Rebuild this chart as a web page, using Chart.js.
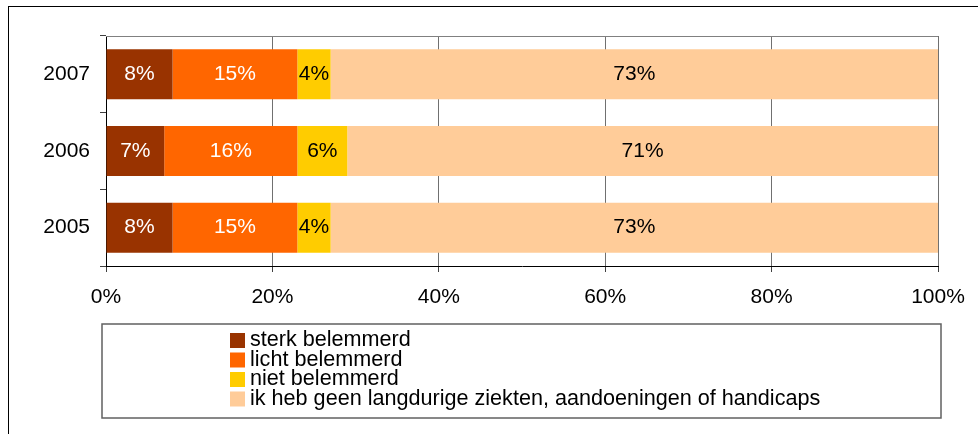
<!DOCTYPE html>
<html>
<head>
<meta charset="utf-8">
<script src="https://cdn.jsdelivr.net/npm/chart.js@4.4.0/dist/chart.umd.min.js"></script>
<style>
  html, body { margin: 0; padding: 0; background: #fff; }
  #wrap { position: relative; width: 978px; height: 434px; overflow: hidden; }
  #frame { position: absolute; left: 8px; top: 6px; width: 1000px; height: 1000px;
           border-left: 1px solid #000; border-top: 1px solid #000; box-sizing: border-box; }
  canvas { position: absolute; left: 0; top: 0; }
</style>
</head>
<body>
<div id="wrap">
  <div id="frame"></div>
  <canvas id="c" width="978" height="434"></canvas>
</div>
<script>
const categories = ['2007', '2006', '2005'];
const seriesNames = ['sterk belemmerd', 'licht belemmerd', 'niet belemmerd',
  'ik heb geen langdurige ziekten, aandoeningen of handicaps'];
const sterk = [8, 7, 8];
const licht = [15, 16, 15];
const niet = [4, 6, 4];
const geen = [73, 71, 73];
const colors = ['#993300', '#FF6600', '#FFCC00', '#FFCC99'];
const labelColors = ['#ffffff', '#ffffff', '#000000', '#000000'];
const xTicks = [0, 20, 40, 60, 80, 100];

const FONT = '"Liberation Sans", Arial, Helvetica, sans-serif';

const valueLabels = {
  id: 'valueLabels',
  afterDatasetsDraw(chart) {
    const ctx = chart.ctx;
    ctx.save();
    ctx.font = '21px ' + FONT;
    ctx.textAlign = 'center';
    ctx.textBaseline = 'middle';
    chart.data.datasets.forEach((ds, di) => {
      const meta = chart.getDatasetMeta(di);
      meta.data.forEach((el, i) => {
        const p = el.getCenterPoint();
        ctx.fillStyle = labelColors[di];
        ctx.fillText(ds.data[i] + '%', p.x, p.y);
      });
    });
    ctx.restore();
  }
};

const extras = {
  id: 'extras',
  beforeDatasetsDraw(chart) {
    const ctx = chart.ctx, a = chart.chartArea;
    ctx.save();
    ctx.strokeStyle = '#808080';
    ctx.lineWidth = 1;
    ctx.beginPath();
    ctx.moveTo(a.left, Math.round(a.top) + 0.5);
    ctx.lineTo(a.right, Math.round(a.top) + 0.5);
    ctx.stroke();
    ctx.restore();
  },
  afterDraw(chart) {
    const ctx = chart.ctx;
    ctx.save();
    ctx.strokeStyle = '#606060';
    ctx.lineWidth = 1.5;
    ctx.strokeRect(102, 324, 839, 94);
    const baselines = [346, 365.5, 385, 404.5];
    ctx.font = '21.6px ' + FONT;
    ctx.textAlign = 'left';
    ctx.textBaseline = 'alphabetic';
    chart.data.datasets.forEach((ds, i) => {
      const b = baselines[i];
      ctx.fillStyle = ds.backgroundColor;
      ctx.fillRect(230, b - 13, 15, 15);
      ctx.fillStyle = '#000';
      ctx.fillText(ds.label, 250, b);
    });
    ctx.restore();
  }
};

const datasets = [sterk, licht, niet, geen].map((d, i) => ({
  label: seriesNames[i],
  data: d,
  backgroundColor: colors[i],
  borderWidth: 0,
  categoryPercentage: 1,
  barPercentage: 0.652
}));

new Chart(document.getElementById('c'), {
  type: 'bar',
  data: { labels: categories, datasets },
  plugins: [valueLabels, extras],
  options: {
    indexAxis: 'y',
    responsive: false,
    animation: false,
    layout: { padding: { top: 36, right: 40, left: 0, bottom: 0 } },
    plugins: { legend: { display: false }, tooltip: { enabled: false } },
    scales: {
      x: {
        stacked: true,
        min: 0, max: 100,
        afterBuildTicks(s) { s.ticks = xTicks.map(v => ({ value: v })); },
        afterFit(s) { s.height = 168; },
        ticks: {
          callback: v => v + '%',
          color: '#000',
          font: { size: 21, family: FONT },
          padding: 13,
          maxRotation: 0
        },
        grid: { color: '#707070', tickColor: '#404040', tickLength: 6, lineWidth: 1 },
        border: { color: '#000', width: 1 }
      },
      y: {
        stacked: true,
        afterFit(s) { s.width = 106; },
        ticks: {
          color: '#000',
          font: { size: 21, family: FONT },
          padding: 10
        },
        grid: { drawOnChartArea: false, offset: true, tickColor: '#404040', tickLength: 6 },
        border: { color: '#000', width: 1 }
      }
    }
  }
});
</script>
</body>
</html>
